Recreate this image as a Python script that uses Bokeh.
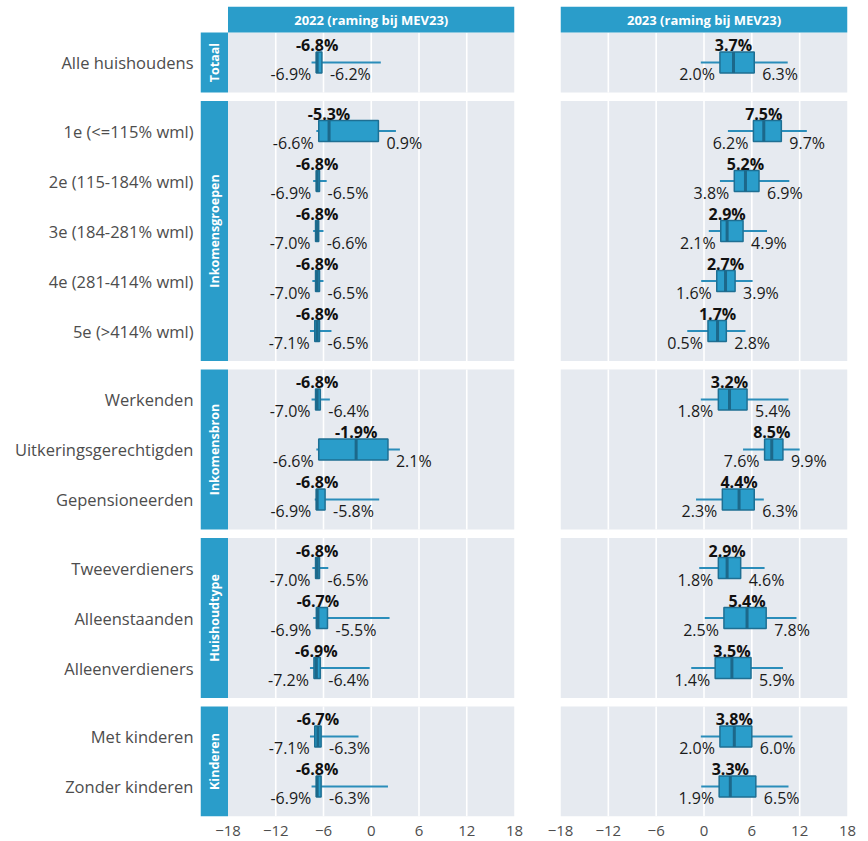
from bokeh.plotting import figure
from bokeh.layouts import row
from bokeh.models import ColumnDataSource, FixedTicker, Range1d
from bokeh.core.properties import value
from bokeh.embed import file_html
from bokeh.resources import INLINE

# ---------------- data ----------------
groups = ["Totaal", "Inkomensgroepen", "Inkomensbron", "Huishoudtype", "Kinderen"]
group_sizes = [1, 5, 3, 3, 2]
categories = ["Alle huishoudens",
              "1e (<=115% wml)", "2e (115-184% wml)", "3e (184-281% wml)",
              "4e (281-414% wml)", "5e (>414% wml)",
              "Werkenden", "Uitkeringsgerechtigden", "Gepensioneerden",
              "Tweeverdieners", "Alleenstaanden", "Alleenverdieners",
              "Met kinderen", "Zonder kinderen"]
years = ["2022 (raming bij MEV23)", "2023 (raming bij MEV23)"]

med_2022 = [-6.8, -5.3, -6.8, -6.8, -6.8, -6.8, -6.8, -1.9, -6.8, -6.8, -6.7, -6.9, -6.7, -6.8]
q1_2022 = [-6.9, -6.6, -6.9, -7.0, -7.0, -7.1, -7.0, -6.6, -6.9, -7.0, -6.9, -7.2, -7.1, -6.9]
q3_2022 = [-6.2, 0.9, -6.5, -6.6, -6.5, -6.5, -6.4, 2.1, -5.8, -6.5, -5.5, -6.4, -6.3, -6.3]
lo_2022 = [-7.5, -6.9, -7.3, -7.3, -7.4, -7.7, -7.5, -6.9, -7.1, -7.4, -7.3, -7.7, -7.7, -7.5]
hi_2022 = [1.2, 3.1, -5.6, -6.0, -6.0, -5.0, -5.2, 3.6, 1.0, -5.4, 2.3, -0.2, -1.6, 2.1]

med_2023 = [3.7, 7.5, 5.2, 2.9, 2.7, 1.7, 3.2, 8.5, 4.4, 2.9, 5.4, 3.5, 3.8, 3.3]
q1_2023 = [2.0, 6.2, 3.8, 2.1, 1.6, 0.5, 1.8, 7.6, 2.3, 1.8, 2.5, 1.4, 2.0, 1.9]
q3_2023 = [6.3, 9.7, 6.9, 4.9, 3.9, 2.8, 5.4, 9.9, 6.3, 4.6, 7.8, 5.9, 6.0, 6.5]
lo_2023 = [-0.4, 3.0, 2.0, 0.6, -0.35, -2.1, -0.4, 4.9, -1.0, -0.6, 0.1, -1.6, -0.4, -0.35]
hi_2023 = [10.5, 12.9, 10.7, 7.9, 6.1, 5.2, 10.6, 12.0, 7.5, 7.6, 11.6, 9.9, 11.1, 10.6]

x_ticks = [-18, -12, -6, 0, 6, 12, 18]
grid_ticks = [-12, -6, 0, 6, 12]

# ---------------- style / layout constants ----------------
FONT = value("Open Sans")
PANEL_BG = "#E6EAF0"
STRIP = "#2A9DCA"
BOX_FILL = "#2A9DCA"
BOX_LINE = "#1E6F93"
MED_LINE = "#1C688A"
WHISK = "#2A8DBA"
TXT = "#4D4D4D"

STRIP_H = 0.52   # top strip height (in category units)
PAD = 0.1        # expansion inside a panel
GAP = 0.17       # gap between panels
STRIP_W = 3.455  # width of the left strip (x units)
HALF_BOX = 0.21

# panel geometry (y grows downward)
panel_top, panel_bot, centers = [], [], []
t = STRIP_H
for g, n in zip(groups, group_sizes):
    b = t + n + 2 * PAD
    panel_top.append(round(t, 4))
    panel_bot.append(round(b, 4))
    for i in range(n):
        centers.append(round(t + PAD + 0.5 + i, 4))
    t = b + GAP
Y_TOTAL = panel_bot[-1]


def make_panel(year_label, med, q1, q3, lo, hi, left):
    if left:
        xr = Range1d(-18 - STRIP_W, 18)
        w, mbl, mbr = 524, 200, 10
    else:
        xr = Range1d(-18, 18)
        w, mbl, mbr = 336, 36, 13
    p = figure(width=w, height=840, x_range=xr, y_range=Range1d(Y_TOTAL, 0),
               output_backend="svg", toolbar_location=None,
               min_border_left=mbl, min_border_right=mbr,
               min_border_top=6, min_border_bottom=24)
    p.outline_line_color = None
    p.background_fill_color = "white"
    p.border_fill_color = "white"
    p.xgrid.visible = False
    p.ygrid.visible = False

    # panel backgrounds
    p.quad(left=-18, right=18, top=panel_top, bottom=panel_bot,
           fill_color=PANEL_BG, line_color=None)
    # grid lines inside each panel
    gx, gy0, gy1 = [], [], []
    for tt, bb in zip(panel_top, panel_bot):
        for g in grid_ticks:
            gx.append(g); gy0.append(tt); gy1.append(bb)
    p.segment(x0=gx, y0=gy0, x1=gx, y1=gy1, line_color="white", line_width=1.6)

    # top strip
    p.quad(left=-18, right=18, top=0, bottom=STRIP_H, fill_color=STRIP, line_color=None)
    p.text(x=[0], y=[STRIP_H / 2], text=[year_label], text_align="center",
           text_baseline="middle", text_color="white", text_font=FONT,
           text_font_size="13px", text_font_style="bold")

    # left strips
    if left:
        p.quad(left=-18 - STRIP_W, right=-18, top=panel_top, bottom=panel_bot,
               fill_color=STRIP, line_color=None)
        mids = [(a + b) / 2 for a, b in zip(panel_top, panel_bot)]
        p.text(x=[-18 - STRIP_W / 2] * len(groups), y=mids, text=groups, angle=1.5707963,
               text_align="center", text_baseline="middle", text_color="white",
               text_font=FONT, text_font_size="12.5px", text_font_style="bold")

    src = ColumnDataSource(dict(
        y=centers, med=med, q1=q1, q3=q3, lo=lo, hi=hi,
        ytop=[c - HALF_BOX for c in centers], ybot=[c + HALF_BOX for c in centers],
        ymed=[c - 0.35 for c in centers],
        ylab=[c + 0.23 for c in centers],
        tmed=[f"{v:.1f}%" for v in med],
        tq1=[f"{v:.1f}%" for v in q1],
        tq3=[f"{v:.1f}%" for v in q3],
    ))
    # whiskers
    p.segment(x0="lo", y0="y", x1="q1", y1="y", source=src, line_color=WHISK, line_width=2)
    p.segment(x0="q3", y0="y", x1="hi", y1="y", source=src, line_color=WHISK, line_width=2)
    # boxes
    p.quad(left="q1", right="q3", top="ytop", bottom="ybot", source=src,
           fill_color=BOX_FILL, line_color=BOX_LINE, line_width=1.5)
    # medians
    p.segment(x0="med", y0="ytop", x1="med", y1="ybot", source=src,
              line_color=MED_LINE, line_width=3)
    # labels
    p.text(x="med", y="ymed", text="tmed", source=src, text_align="center",
           text_baseline="middle", text_font=FONT, text_font_size="16px",
           text_font_style="bold", text_color="#111111")
    p.text(x="q1", y="ylab", text="tq1", source=src, x_offset=-5, text_align="right",
           text_baseline="middle", text_font=FONT, text_font_size="16px",
           text_color="#1A1A1A")
    p.text(x="q3", y="ylab", text="tq3", source=src, x_offset=8, text_align="left",
           text_baseline="middle", text_font=FONT, text_font_size="16px",
           text_color="#1A1A1A")

    # axes
    xa = p.xaxis[0]
    xa.ticker = FixedTicker(ticks=x_ticks)
    xa.axis_line_color = None
    xa.major_tick_line_color = None
    xa.minor_tick_line_color = None
    xa.major_label_text_font = "Open Sans"
    xa.major_label_text_font_size = "15px"
    xa.major_label_text_color = TXT
    xa.major_label_standoff = 3

    ya = p.yaxis[0]
    if left:
        overrides = {}
        for c, name in zip(centers, categories):
            overrides[c] = name
            overrides[repr(c)] = name
        ya.ticker = FixedTicker(ticks=centers)
        ya.major_label_overrides = overrides
        ya.axis_line_color = None
        ya.major_tick_line_color = None
        ya.minor_tick_line_color = None
        ya.major_label_text_font = "Open Sans"
        ya.major_label_text_font_size = "16.5px"
        ya.major_label_text_color = TXT
        ya.major_label_standoff = 1
    else:
        ya.visible = False
    return p


p1 = make_panel(years[0], med_2022, q1_2022, q3_2022, lo_2022, hi_2022, True)
p2 = make_panel(years[1], med_2023, q1_2023, q3_2023, lo_2023, hi_2023, False)
layout = row(p1, p2)

open("out.html", "w").write(file_html(layout, INLINE))
